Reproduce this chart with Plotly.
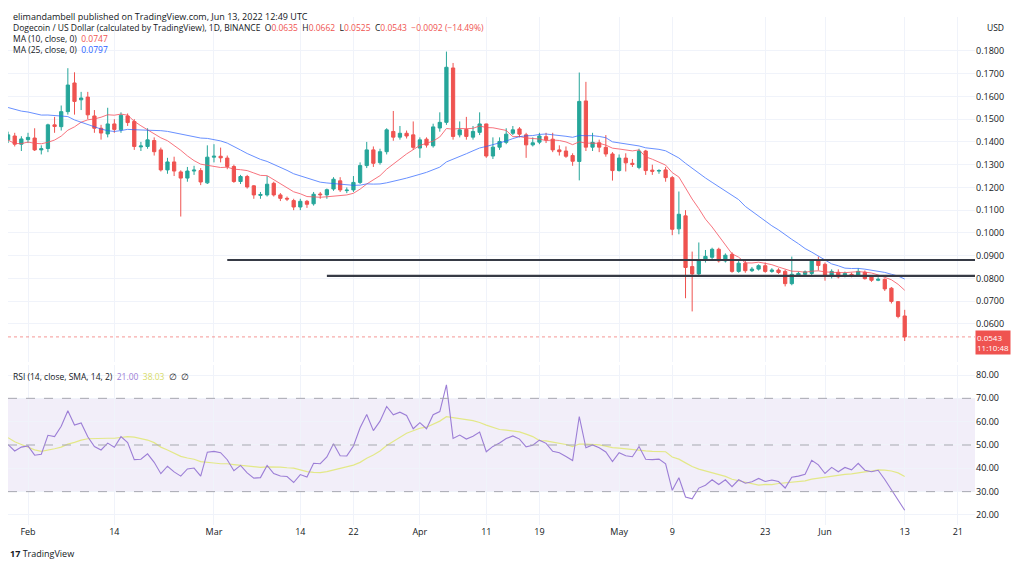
import pandas as pd
import numpy as np
import plotly.graph_objects as go
from plotly.subplots import make_subplots

start_date = "2022-01-29"
prior_closes = [0.158, 0.162, 0.152, 0.153, 0.154, 0.147, 0.152, 0.160, 0.170, 0.195, 0.185, 0.178,
                0.170, 0.168, 0.166, 0.154, 0.142, 0.135, 0.142, 0.139, 0.141, 0.137, 0.136, 0.139]
opens = [0.1409,0.1426,0.1390,0.1410,0.1417,0.1365,0.1371,0.1475,0.1467,0.1533,0.1659,0.1585,0.1597,0.1514,0.1460,0.1435,0.1479,0.1453,0.1514,0.1490,0.1378,0.1380,0.1406,0.1365,0.1277,0.1312,0.1268,0.1241,0.1272,0.1274,0.1220,
         0.1333,0.1337,0.1329,0.1292,0.1226,0.1248,0.1207,0.1165,0.1167,0.1218,0.1167,0.1152,0.1142,0.1114,0.1139,0.1128,0.1171,0.1167,0.1193,0.1229,0.1186,0.1189,0.1222,0.1296,0.1365,0.1309,0.1357,0.1446,0.1421,0.1438,0.1431,
         0.1373,0.1412,0.1383,0.1461,0.1486,0.1725,0.1431,0.1455,0.1421,0.1442,0.1479,0.1338,0.1377,0.1398,0.1438,0.1457,0.1431,0.1387,0.1399,0.1423,0.1412,0.1365,0.1360,0.1340,0.1314,0.1580,0.1377,0.1396,0.1376,0.1347,
         0.1274,0.1329,0.1306,0.1288,0.1360,0.1276,0.1272,0.1277,0.1243,0.1018,0.1075,0.0852,0.0820,0.0881,0.0893,0.0928,0.0877,0.0906,0.0831,0.0867,0.0834,0.0841,0.0856,0.0831,0.0837,0.0831,0.0777,0.0815,0.0818,0.0822,0.0877,
         0.0862,0.0809,0.0827,0.0810,0.0818,0.0813,0.0827,0.0806,0.0792,0.0796,0.0757,0.0698,0.0635]
closes = [0.1431,0.1390,0.1413,0.1420,0.1365,0.1370,0.1475,0.1468,0.1533,0.1650,0.1578,0.1593,0.1519,0.1460,0.1439,0.1479,0.1455,0.1517,0.1485,0.1380,0.1382,0.1409,0.1357,0.1277,0.1312,0.1272,0.1241,0.1272,0.1276,0.1224,0.1333,
          0.1337,0.1330,0.1292,0.1226,0.1248,0.1202,0.1167,0.1169,0.1214,0.1167,0.1152,0.1149,0.1114,0.1139,0.1126,0.1170,0.1168,0.1190,0.1236,0.1189,0.1188,0.1222,0.1296,0.1365,0.1306,0.1357,0.1453,0.1421,0.1438,0.1426,0.1376,
          0.1409,0.1386,0.1466,0.1486,0.1728,0.1424,0.1453,0.1424,0.1446,0.1479,0.1338,0.1377,0.1402,0.1434,0.1453,0.1434,0.1387,0.1396,0.1426,0.1409,0.1365,0.1357,0.1337,0.1315,0.1578,0.1377,0.1398,0.1377,0.1347,0.1274,
          0.1329,0.1308,0.1301,0.1360,0.1274,0.1271,0.1274,0.1243,0.1016,0.1082,0.0848,0.0820,0.0881,0.0897,0.0928,0.0877,0.0902,0.0831,0.0867,0.0834,0.0841,0.0856,0.0831,0.0837,0.0826,0.0777,0.0818,0.0822,0.0829,0.0881,0.0857,
          0.0809,0.0831,0.0807,0.0822,0.0810,0.0831,0.0799,0.0792,0.0796,0.0754,0.0699,0.0633,0.0543]
highs = [0.1445,0.1440,0.1425,0.1440,0.1460,0.1385,0.1480,0.1510,0.1560,0.1724,0.1706,0.1620,0.1620,0.1540,0.1475,0.1550,0.1500,0.1530,0.1525,0.1500,0.1400,0.1460,0.1420,0.1375,0.1330,0.1335,0.1275,0.1290,0.1295,0.1285,0.1385,
         0.1390,0.1375,0.1340,0.1300,0.1255,0.1255,0.1210,0.1180,0.1250,0.1225,0.1175,0.1160,0.1150,0.1150,0.1145,0.1180,0.1180,0.1195,0.1245,0.1245,0.1200,0.1250,0.1310,0.1400,0.1380,0.1370,0.1460,0.1536,0.1470,0.1450,0.1490,
         0.1420,0.1420,0.1480,0.1530,0.1797,0.1747,0.1490,0.1510,0.1470,0.1530,0.1480,0.1420,0.1420,0.1460,0.1470,0.1465,0.1440,0.1420,0.1440,0.1440,0.1440,0.1385,0.1380,0.1350,0.1705,0.1664,0.1440,0.1410,0.1430,0.1355,
         0.1345,0.1350,0.1325,0.1370,0.1365,0.1300,0.1280,0.1290,0.1250,0.1182,0.1100,0.0918,0.0958,0.0925,0.0935,0.0935,0.0910,0.0915,0.0880,0.0880,0.0850,0.0862,0.0870,0.0845,0.0845,0.0838,0.0896,0.0830,0.0835,0.0885,0.0896,
         0.0870,0.0840,0.0840,0.0830,0.0825,0.0845,0.0835,0.0815,0.0805,0.0800,0.0762,0.0700,0.0662]
lows = [0.1395,0.1380,0.1360,0.1395,0.1360,0.1345,0.1355,0.1440,0.1450,0.1520,0.1520,0.1540,0.1500,0.1440,0.1410,0.1420,0.1440,0.1440,0.1470,0.1365,0.1360,0.1370,0.1340,0.1270,0.1260,0.1250,0.1072,0.1225,0.1255,0.1210,0.1215,
        0.1310,0.1310,0.1280,0.1220,0.1215,0.1195,0.1150,0.1150,0.1160,0.1160,0.1140,0.1140,0.1100,0.1100,0.1110,0.1120,0.1150,0.1150,0.1185,0.1180,0.1175,0.1180,0.1215,0.1285,0.1290,0.1300,0.1345,0.1405,0.1410,0.1415,0.1365,
        0.1330,0.1375,0.1375,0.1445,0.1475,0.1410,0.1420,0.1410,0.1410,0.1430,0.1330,0.1325,0.1365,0.1390,0.1430,0.1420,0.1330,0.1380,0.1390,0.1395,0.1355,0.1340,0.1330,0.1295,0.1231,0.1360,0.1360,0.1355,0.1335,0.1230,
        0.1270,0.1270,0.1290,0.1280,0.1255,0.1255,0.1260,0.1225,0.0990,0.0994,0.0713,0.0655,0.0815,0.0870,0.0880,0.0870,0.0870,0.0825,0.0825,0.0825,0.0828,0.0835,0.0825,0.0825,0.0820,0.0765,0.0770,0.0810,0.0810,0.0815,0.0835,
        0.0790,0.0800,0.0800,0.0805,0.0805,0.0808,0.0795,0.0785,0.0788,0.0745,0.0690,0.0625,0.0525]
support_levels = [0.0881, 0.0811]
support_starts = ["2022-03-03", "2022-03-18"]
tick_dates = ["2022-02-01","2022-02-14","2022-03-01","2022-03-14","2022-03-22","2022-04-01","2022-04-11","2022-04-19",
              "2022-05-01","2022-05-09","2022-05-23","2022-06-01","2022-06-13","2022-06-21"]
tick_labels = ["Feb","14","Mar","14","22","Apr","11","19","May","9","23","Jun","13","21"]
price_ticks = [0.06,0.07,0.08,0.09,0.10,0.11,0.12,0.13,0.14,0.15,0.16,0.17,0.18]
rsi_ticks = [20,30,40,50,60,70,80]

n = len(closes)
dates = pd.date_range(start_date, periods=n, freq="D")
allc = pd.Series(prior_closes + closes)
ma10 = allc.rolling(10, min_periods=1).mean().iloc[-n:].values
ma25 = allc.rolling(25, min_periods=1).mean().iloc[-n:].values
d = allc.diff()
up = d.clip(lower=0).ewm(alpha=1/14, adjust=False).mean()
dn = (-d.clip(upper=0)).ewm(alpha=1/14, adjust=False).mean()
rsi_all = 100 - 100/(1 + up/dn)
rsi_ma_all = rsi_all.rolling(14, min_periods=1).mean()
rsi = rsi_all.iloc[-n:].values
rsi_ma = rsi_ma_all.iloc[-n:].values

fig = make_subplots(rows=2, cols=1, shared_xaxes=True)
GREEN, RED = "#26a69a", "#ef5350"
fig.add_trace(go.Candlestick(x=dates, open=opens, high=highs, low=lows, close=closes,
                             increasing=dict(line=dict(color=GREEN, width=1), fillcolor=GREEN),
                             decreasing=dict(line=dict(color=RED, width=1), fillcolor=RED),
                             whiskerwidth=0, showlegend=False, hoverinfo="skip"), row=1, col=1)
fig.add_trace(go.Scatter(x=dates, y=ma10, mode="lines", line=dict(color="#f7525f", width=1), opacity=0.8, showlegend=False), row=1, col=1)
fig.add_trace(go.Scatter(x=dates, y=ma25, mode="lines", line=dict(color="#2962ff", width=1), opacity=0.7, showlegend=False), row=1, col=1)

x0 = pd.Timestamp("2022-01-28 23:43"); x1 = pd.Timestamp("2022-06-23 14:00")
fig.add_shape(type="rect", x0=x0, x1=x1, y0=30, y1=70, xref="x2", yref="y2", fillcolor="rgba(126,87,194,0.1)", line_width=0, layer="below")
for lv in [70, 50, 30]:
    fig.add_shape(type="line", x0=x0, x1=x1, y0=lv, y1=lv, xref="x2", yref="y2", line=dict(color="#a7a7b0", width=1, dash="dash"))
fig.add_trace(go.Scatter(x=dates, y=rsi_ma, mode="lines", line=dict(color="#e3e888", width=1.2), showlegend=False), row=2, col=1)
fig.add_trace(go.Scatter(x=dates, y=rsi, mode="lines", line=dict(color="#9c7ed6", width=1.1), showlegend=False), row=2, col=1)

for lv, s in zip(support_levels, support_starts):
    fig.add_shape(type="line", x0=pd.Timestamp(s), x1=x1, y0=lv, y1=lv, xref="x", yref="y", line=dict(color="#363a45", width=2.2))
fig.add_shape(type="line", x0=x0, x1=x1, y0=closes[-1], y1=closes[-1], xref="x", yref="y", line=dict(color="rgba(239,83,80,0.6)", width=1, dash="dot"))

fig.update_xaxes(range=[x0, x1], showgrid=True, gridcolor="#f0f3fa", zeroline=False, showline=False,
                 tickvals=pd.to_datetime(tick_dates), ticktext=tick_labels, rangeslider_visible=False,
                 tickfont=dict(size=9, color="#131722", family="Open Sans"))
fig.update_xaxes(showticklabels=False, row=1, col=1)
fig.update_yaxes(side="right", showgrid=True, gridcolor="#f0f3fa", zeroline=False, ticks="",
                 tickfont=dict(size=9, color="#131722", family="Open Sans"))
fig.update_yaxes(range=[0.0433, 0.1949], tickvals=price_ticks, ticktext=[f"{v:.4f}" for v in price_ticks], domain=[0.321, 1.0], row=1, col=1)
fig.update_yaxes(range=[15.7, 84.3], tickvals=rsi_ticks, ticktext=[f"{v:.2f}" for v in rsi_ticks], domain=[0.0, 0.315], row=2, col=1)

F = "Open Sans"
ann = [
    dict(x=0.003, y=1.0, xref="paper", yref="paper", yshift=9, xanchor="left", yanchor="top", showarrow=False,
         text="elimandambell published on TradingView.com, Jun 13, 2022 12:49 UTC", font=dict(size=9, color="#131722", family=F)),
    dict(x=0.003, y=1.0, xref="paper", yref="paper", yshift=-3, xanchor="left", yanchor="top", showarrow=False, align="left",
         text="Dogecoin / US Dollar (calculated by TradingView), 1D, BINANCE  O<span style='color:#ef5350'>0.0635</span>  H<span style='color:#ef5350'>0.0662</span>  L<span style='color:#ef5350'>0.0525</span>  C<span style='color:#ef5350'>0.0543</span>  <span style='color:#ef5350'>−0.0092 (−14.49%)</span>"
              "<br>MA (10, close, 0)  <span style='color:#ef5350'>0.0747</span><br>MA (25, close, 0)  <span style='color:#2962ff'>0.0797</span>",
         font=dict(size=8.5, color="#131722", family=F)),
    dict(x=0.003, y=0.315, xref="paper", yref="paper", yshift=-4, xanchor="left", yanchor="top", showarrow=False,
         text="RSI (14, close, SMA, 14, 2)  <span style='color:#9c7ed6'>21.00</span>  <span style='color:#d8dc6a'>38.03</span>  ∅  ∅",
         font=dict(size=8.5, color="#131722", family=F)),
    dict(x=1.0, y=1.0, xref="paper", yref="paper", xshift=10, yshift=-3, xanchor="left", yanchor="top", showarrow=False,
         text="USD", font=dict(size=8.5, color="#131722", family=F)),
    dict(x=1.0, y=closes[-1], xref="paper", yref="y", yshift=-6, xanchor="left", yanchor="middle", showarrow=False, align="left",
         text="0.0543<br>11:10:48", bgcolor=RED, font=dict(size=8, color="white", family=F), borderpad=1),
    dict(x=0.0, y=0.0, xref="paper", yref="paper", yshift=-28, xanchor="left", yanchor="middle", showarrow=False,
         text="<b>17</b> TradingView", font=dict(size=9, color="#131722", family=F)),
]
fig.update_layout(width=1024, height=565, margin=dict(l=0, r=57, t=9, b=48), plot_bgcolor="white", paper_bgcolor="white",
                  annotations=ann, hovermode=False, showlegend=False)
fig.write_html("out.html")
